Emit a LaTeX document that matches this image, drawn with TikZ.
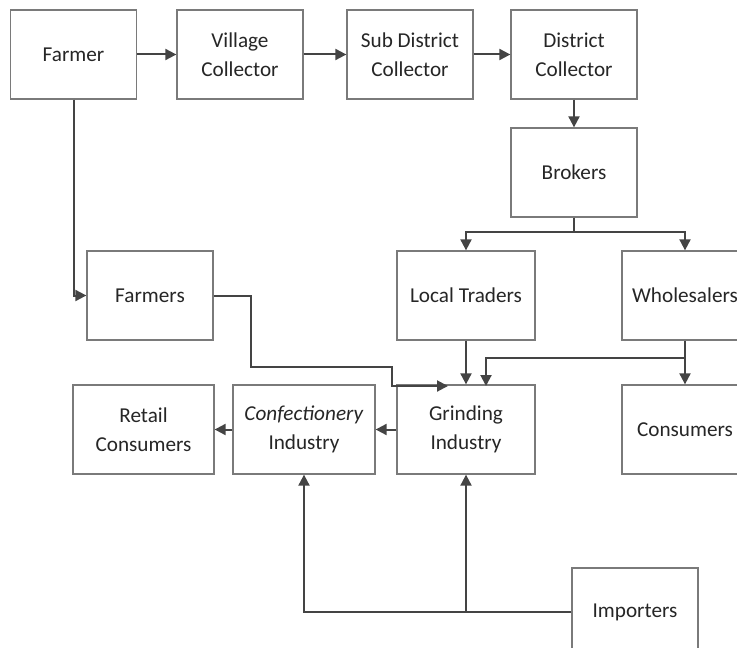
\documentclass[tikz,border=0pt]{standalone}
\usepackage{fontspec}
\setmainfont{Carlito}
\usetikzlibrary{arrows.meta}
\definecolor{boxline}{HTML}{7A7A7A}
\definecolor{flowline}{HTML}{444444}
\definecolor{labeltext}{HTML}{262626}
\begin{document}
\begin{tikzpicture}[x=0.5pt,y=-0.5pt,
  box/.style={draw=boxline,line width=0.65pt,fill=white,text=labeltext,
    align=center,minimum width=63pt,minimum height=44.5pt,
    font=\fontsize{10.6}{14.5}\selectfont},
  widebox/.style={box,minimum width=69pt},
  flow/.style={draw=flowline,line width=1pt,-{Triangle[length=5.5pt,width=5.5pt]}}]
\useasboundingbox (0,0) rectangle (737,647);

% draw boxes
% 1 px of the scan is half a point
\node[box] (farmer) at (73.5,54.5) {Farmer};
\node[box] (village) at (240,54.5) {Village\\Collector};
\node[box] (subdistrict) at (410,54.5) {Sub District\\Collector};
\node[box] (district) at (574,54.5) {District\\Collector};
\node[box] (brokers) at (574,172.5) {Brokers};

\node[box] (farmers) at (150,295.5) {Farmers};
\node[widebox] (traders) at (466,295.5) {Local Traders};
\node[box] (wholesalers) at (685,295.5) {Wholesalers};

\node[widebox,minimum width=70.5pt] (retail) at (143.5,429.5) {Retail\\Consumers};
\node[widebox,minimum width=71pt] (confect) at (304,429.5) {\textit{Confectionery}\\Industry};
\node[widebox] (grinding) at (466,429.5) {Grinding\\Industry};
\node[box] (consumers) at (685,429.5) {Consumers};

\node[box,minimum height=44pt] (importers) at (635,612) {Importers};

% draw arrows
\draw[flow] (farmer) -- (village);
\draw[flow] (village) -- (subdistrict);
\draw[flow] (subdistrict) -- (district);
\draw[flow] (district) -- (brokers);

\coordinate (split) at (574,232);
\draw[draw=flowline,line width=1pt] (brokers.south) -- (split);
\draw[flow] (split) -| (traders.north);
\draw[flow] (split) -| (wholesalers.north);

\draw[flow] (farmer.south) |- (farmers.west);
\coordinate (ginto) at (448,386);
\draw[flow] (farmers.east) -- (251,295.5) -- (251,367) -- (392,367) |- (ginto);

\draw[flow] (traders) -- (grinding);
\draw[flow] (wholesalers) -- (consumers);
\coordinate (wsplit) at (685,358);
\draw[flow] (wsplit) -| (486,386);

\draw[flow] (grinding) -- (confect);
\draw[flow] (confect) -- (retail);

\draw[flow] (importers.west) -| (confect.south);
\draw[flow] (importers.west -| grinding.south) -- (grinding.south);

\end{tikzpicture}
\end{document}
